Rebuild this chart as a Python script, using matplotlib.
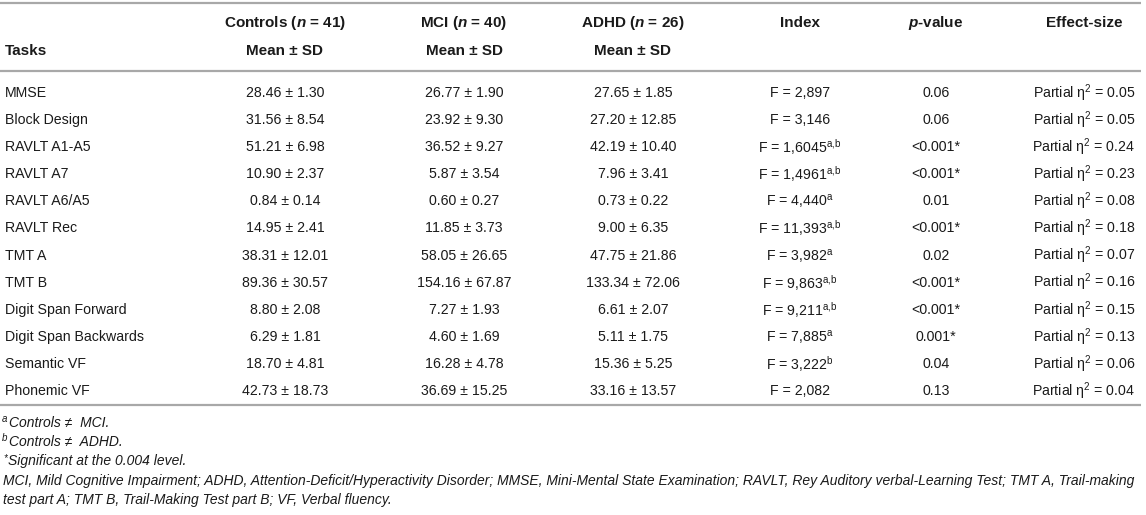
import matplotlib
matplotlib.use("Agg")
import matplotlib.pyplot as plt

plt.rcParams['font.family'] = ['Liberation Sans', 'DejaVu Sans']
plt.rcParams['mathtext.fontset'] = 'custom'
plt.rcParams['mathtext.rm'] = 'Liberation Sans'
plt.rcParams['mathtext.it'] = 'Liberation Sans:italic:bold'
plt.rcParams['mathtext.bf'] = 'Liberation Sans:bold'

# ---- data ----
tasks = ["MMSE", "Block Design", "RAVLT A1-A5", "RAVLT A7", "RAVLT A6/A5", "RAVLT Rec",
         "TMT A", "TMT B", "Digit Span Forward", "Digit Span Backwards", "Semantic VF", "Phonemic VF"]
controls_mean = ["28.46", "31.56", "51.21", "10.90", "0.84", "14.95", "38.31", "89.36", "8.80", "6.29", "18.70", "42.73"]
controls_sd = ["1.30", "8.54", "6.98", "2.37", "0.14", "2.41", "12.01", "30.57", "2.08", "1.81", "4.81", "18.73"]
mci_mean = ["26.77", "23.92", "36.52", "5.87", "0.60", "11.85", "58.05", "154.16", "7.27", "4.60", "16.28", "36.69"]
mci_sd = ["1.90", "9.30", "9.27", "3.54", "0.27", "3.73", "26.65", "67.87", "1.93", "1.69", "4.78", "15.25"]
adhd_mean = ["27.65", "27.20", "42.19", "7.96", "0.73", "9.00", "47.75", "133.34", "6.61", "5.11", "15.36", "33.16"]
adhd_sd = ["1.85", "12.85", "10.40", "3.41", "0.22", "6.35", "21.86", "72.06", "2.07", "1.75", "5.25", "13.57"]
f_values = ["2,897", "3,146", "1,6045", "1,4961", "4,440", "11,393", "3,982", "9,863", "9,211", "7,885", "3,222", "2,082"]
f_marks = ["", "", "a,b", "a,b", "a", "a,b", "a", "a,b", "a,b", "a", "b", ""]
p_values = ["0.06", "0.06", "<0.001*", "<0.001*", "0.01", "<0.001*", "0.02", "<0.001*", "<0.001*", "0.001*", "0.04", "0.13"]
eta_sq = ["0.05", "0.05", "0.24", "0.23", "0.08", "0.18", "0.07", "0.16", "0.15", "0.13", "0.06", "0.04"]

W, H = 1146, 515
fig = plt.figure(figsize=(W / 100, H / 100), dpi=100)
ax = fig.add_axes([0, 0, 1, 1])
ax.set_xlim(0, W)
ax.set_ylim(H, 0)
ax.axis('off')

fs = 10.2
hfs = 11.0
col_x = {"tasks": 5, "ctrl": 285, "mci": 464, "adhd": 633, "idx": 800, "p": 936, "eff": 1084}
line_c = "#a8a8a8"
txt_c = "#1a1a1a"

# rules
for y in (3, 71, 405):
    ax.plot([0, 1141], [y, y], color=line_c, lw=1.6, solid_capstyle='butt')

# header
hy1, hy2 = 23, 51
hkw = dict(fontsize=hfs, fontweight='bold', va='center', ha='center', color=txt_c)
ax.text(col_x["tasks"], hy2, "Tasks", **{**hkw, 'ha': 'left'})
ax.text(col_x["ctrl"], hy1, "Controls ($n$ = 41)", **hkw)
ax.text(col_x["mci"], hy1, "MCI ($n$ = 40)", **hkw)
ax.text(col_x["adhd"], hy1, "ADHD ($n$ = 26)", **hkw)
for k in ("ctrl", "mci", "adhd"):
    ax.text(col_x[k], hy2, "Mean ± SD", **hkw)
ax.text(col_x["idx"], hy1, "Index", **hkw)
ax.text(col_x["p"], hy1, "$p$-value", **hkw)
ax.text(col_x["eff"], hy1, "Effect-size", **hkw)

# body
y0, dy = 93, (391 - 93) / 11
bkw = dict(fontsize=fs, va='center', ha='center', color=txt_c)
for i, t in enumerate(tasks):
    y = y0 + i * dy
    ax.text(col_x["tasks"], y, t, **{**bkw, 'ha': 'left'})
    ax.text(col_x["ctrl"], y, f"{controls_mean[i]} ± {controls_sd[i]}", **bkw)
    ax.text(col_x["mci"], y, f"{mci_mean[i]} ± {mci_sd[i]}", **bkw)
    ax.text(col_x["adhd"], y, f"{adhd_mean[i]} ± {adhd_sd[i]}", **bkw)
    mark = f_marks[i].replace(",", "{,}")
    sup = f"$^{{\\mathrm{{{mark}}}}}$" if f_marks[i] else ""
    ax.text(col_x["idx"], y, f"F = {f_values[i]}{sup}", **bkw)
    ax.text(col_x["p"], y, p_values[i], **bkw)
    ax.text(col_x["eff"], y, f"Partial η$^{{\\mathrm{{2}}}}$ = {eta_sq[i]}", **bkw)

# footnotes
ffs = 10.0
fkw = dict(fontsize=ffs, style='italic', va='center', ha='left', color=txt_c)
skw = dict(fontsize=7, style='italic', va='center', ha='left', color=txt_c)
ax.text(2, 419, "a", **skw)
ax.text(9, 423, "Controls ≠  MCI.", **fkw)
ax.text(2, 438, "b", **skw)
ax.text(9, 442, "Controls ≠  ADHD.", **fkw)
ax.text(3, 458, "*", **skw)
ax.text(8, 461, "Significant at the 0.004 level.", **fkw)
ax.text(3, 481, "MCI, Mild Cognitive Impairment; ADHD, Attention-Deficit/Hyperactivity Disorder; MMSE, Mini-Mental State Examination; "
        "RAVLT, Rey Auditory verbal-Learning Test; TMT A, Trail-making", **fkw)
ax.text(3, 500, "test part A; TMT B, Trail-Making Test part B; VF, Verbal fluency.", **fkw)

fig.savefig("out.png", dpi=100)
